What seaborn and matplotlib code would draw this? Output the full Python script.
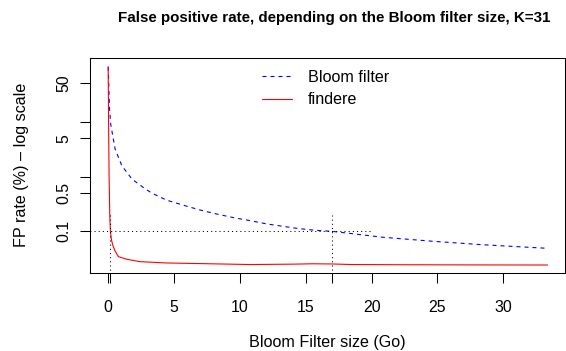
import numpy as np
import pandas as pd
import matplotlib
matplotlib.use("Agg")
import matplotlib.pyplot as plt
import seaborn as sns

# ---- data ----
bloom_size = [0.0, 0.1, 0.2, 0.53, 1.04, 1.8, 2.67, 3.3, 4.44, 5.7, 6.97, 8.2,
              9.5, 10.76, 12.0, 13.3, 14.5, 15.8, 17.0, 20.85, 24.6, 28.4, 33.35]
bloom_fp = [100, 17.5, 8.7, 3.15, 1.57, 0.9, 0.63, 0.5, 0.37, 0.30, 0.245, 0.208,
            0.178, 0.157, 0.137, 0.123, 0.112, 0.104, 0.1, 0.078, 0.066, 0.057, 0.049]

findere_size = [0.0, 0.03, 0.07, 0.12, 0.17, 0.25, 0.35, 0.5, 0.78, 1.4, 2.4, 4.4,
                7.0, 10.8, 14.0, 15.5, 17.0, 18.5, 22.0, 28.0, 33.35]
findere_fp = [100, 10, 1.0, 0.2, 0.1, 0.07, 0.056, 0.045, 0.0345, 0.031, 0.028, 0.0265,
              0.0258, 0.0248, 0.0252, 0.0256, 0.0254, 0.0248, 0.0246, 0.0244, 0.0243]

y_ticks = [0.1, 0.5, 1, 5, 10, 50]
y_tick_labels = ["0.1", "0.5", "", "5", "", "50"]
x_ticks = [0, 5, 10, 15, 20, 25, 30]
x_extra_ticks = [0.15, 17]
threshold = 0.1

sns.set_style("white")
plt.rcParams['font.family'] = ['Liberation Sans', 'DejaVu Sans']
plt.rcParams['text.color'] = 'black'
plt.rcParams['axes.labelcolor'] = 'black'

W, H = 566, 351
fig = plt.figure(figsize=(W / 100, H / 100), dpi=100)
L, R, T, B = 90, 565, 58, 272.7
ax = fig.add_axes([L / W, 1 - B / H, (R - L) / W, (B - T) / H])

df_b = pd.DataFrame({"size": bloom_size, "fp": bloom_fp})
df_f = pd.DataFrame({"size": findere_size, "fp": findere_fp})

sns.lineplot(data=df_b, x="size", y="fp", ax=ax, color="#0000FF", lw=0.8,
             label="Bloom filter", estimator=None, sort=False)
sns.lineplot(data=df_f, x="size", y="fp", ax=ax, color="#FF0000", lw=0.8,
             label="findere", estimator=None, sort=False)
ax.lines[0].set_dashes((3.6, 3.6))

ax.set_yscale("log")
ax.set_xlim(-1.38, 34.68)
ax.set_ylim(0.0176, 145)

# reference lines
ax.plot([-3, 20], [threshold, threshold], color="black", lw=0.75, ls=(0, (1, 3)))
for xv in x_extra_ticks:
    ax.plot([xv, xv], [0.001, 0.2], color="black", lw=0.75, ls=(0, (1, 3)))

ax.set_xticks(x_ticks + x_extra_ticks)
ax.set_xticklabels([str(v) for v in x_ticks] + ["", ""])
ax.set_yticks(y_ticks)
ax.set_yticklabels(y_tick_labels)
ax.yaxis.set_minor_locator(matplotlib.ticker.NullLocator())

ax.tick_params(axis="both", direction="out", length=7.2, width=0.75, color="black",
               labelsize=11.4, labelcolor="black", bottom=True, left=True)
ax.tick_params(axis="x", pad=12.5)
ax.tick_params(axis="y", pad=6.5, labelrotation=90)
for lab in ax.get_yticklabels():
    lab.set_va("center")

for s in ax.spines.values():
    s.set_color("black")
    s.set_linewidth(0.75)

ax.set_xlabel("Bloom Filter size (Go)", fontsize=11.6)
ax.set_ylabel("FP rate (%) – log scale", fontsize=11.6)
ax.xaxis.set_label_coords((327.5 - L) / (R - L), (B - 342) / (B - T))
ax.xaxis.label.set_va("center")
ax.yaxis.set_label_coords((22 - L) / (R - L), 0.5)
ax.yaxis.label.set_va("center")

fig.text(334.5 / W, 1 - 18 / H, "False positive rate, depending on the Bloom filter size, K=31",
         ha="center", va="center", fontsize=10.9, fontweight="bold", color="black")

leg = ax.legend(loc="upper left", bbox_to_anchor=((262 - L) / (R - L), (B - 70) / (B - T)),
                frameon=False, fontsize=11.6, handlelength=1.85, handletextpad=1.0,
                labelspacing=0.45, borderpad=0, borderaxespad=0)
for t in leg.get_texts():
    t.set_color("black")

fig.savefig("out.png", dpi=100)
